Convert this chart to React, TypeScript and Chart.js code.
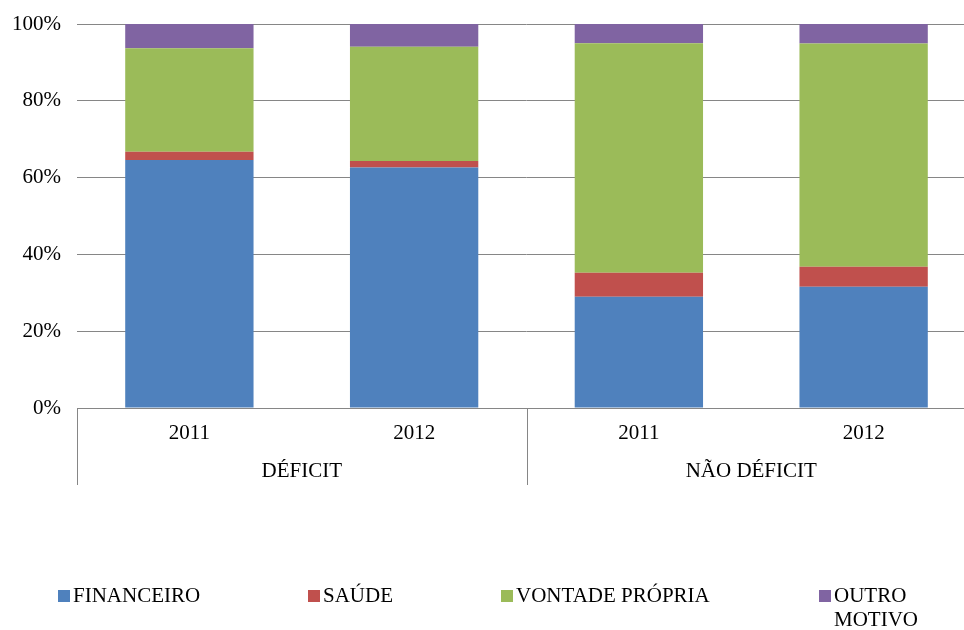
import { useEffect, useRef } from 'react';
import { Chart, registerables } from 'chart.js';

Chart.register(...registerables);

const categories = ['2011', '2012', '2011', '2012'];
const groups = ['DÉFICIT', 'NÃO DÉFICIT'];
const groupSizes = [2, 2];
const seriesNames = ['FINANCEIRO', 'SAÚDE', 'VONTADE PRÓPRIA', 'OUTRO MOTIVO'];
const financeiro = [64.6, 62.6, 29.0, 31.6];
const saude = [2.1, 1.7, 6.2, 5.2];
const vontadePropria = [27.0, 29.8, 59.8, 58.1];
const outroMotivo = [6.3, 5.9, 5.0, 5.1];
const yTicks = [0, 20, 40, 60, 80, 100];

const colors = ['#4F81BD', '#C0504D', '#9BBB59', '#8064A2'];
const FONT = '"Liberation Serif", "Times New Roman", serif';
const GRID = '#868686';

export default function App() {
  const ref = useRef<HTMLCanvasElement>(null);

  useEffect(() => {
    if (!ref.current) return;

    const groupPlugin = {
      id: 'groupAxis',
      afterDraw(chart: any) {
        const { ctx, chartArea, scales } = chart;
        const xs = scales.x;
        const bottom = chartArea.bottom;
        ctx.save();
        ctx.strokeStyle = GRID;
        ctx.lineWidth = 1;
        ctx.fillStyle = '#000';
        ctx.font = `21px ${FONT}`;
        ctx.textAlign = 'center';
        ctx.textBaseline = 'middle';
        let start = 0;
        const boundaries: number[] = [xs.left];
        groups.forEach((g, gi) => {
          const end = start + groupSizes[gi];
          const right =
            end >= categories.length
              ? xs.right
              : (xs.getPixelForValue(end - 1) + xs.getPixelForValue(end)) / 2;
          const left = boundaries[boundaries.length - 1];
          boundaries.push(right);
          ctx.fillText(g, (left + right) / 2, bottom + 63);
          start = end;
        });
        boundaries.forEach((bx) => {
          const px = Math.round(bx) + 0.5;
          ctx.beginPath();
          ctx.moveTo(px, bottom);
          ctx.lineTo(px, bottom + 77);
          ctx.stroke();
        });
        ctx.restore();
      },
    };

    const legendPlugin = {
      id: 'customLegend',
      afterDraw(chart: any) {
        const { ctx } = chart;
        const itemX = [58, 308, 501, 819];
        const y = 596;
        const maxRight = 950;
        ctx.save();
        ctx.font = `21px ${FONT}`;
        ctx.textBaseline = 'middle';
        ctx.textAlign = 'left';
        chart.data.datasets.forEach((ds: any, i: number) => {
          const x = itemX[i];
          ctx.fillStyle = ds.backgroundColor;
          ctx.fillRect(x, y - 6, 12, 12);
          ctx.fillStyle = '#000';
          const tx = x + 15;
          const words = String(ds.label).split(' ');
          const lines: string[] = [];
          let cur = '';
          words.forEach((w) => {
            const test = cur ? cur + ' ' + w : w;
            if (cur && tx + ctx.measureText(test).width > maxRight) {
              lines.push(cur);
              cur = w;
            } else {
              cur = test;
            }
          });
          if (cur) lines.push(cur);
          lines.forEach((ln, li) => ctx.fillText(ln, tx, y + li * 24));
        });
        ctx.restore();
      },
    };

    const seriesValues = [financeiro, saude, vontadePropria, outroMotivo];

    const chart = new Chart(ref.current, {
      type: 'bar',
      data: {
        labels: categories,
        datasets: seriesNames.map((name, i) => ({
          label: name,
          data: seriesValues[i],
          backgroundColor: colors[i],
          borderWidth: 0,
          categoryPercentage: 1,
          barPercentage: 0.571,
        })),
      },
      options: {
        responsive: false,
        animation: false,
        devicePixelRatio: 1,
        layout: { padding: { top: 24, left: 0, right: 0, bottom: 0 } },
        plugins: {
          legend: { display: false },
          tooltip: { enabled: false },
        },
        scales: {
          x: {
            stacked: true,
            grid: { display: false, drawTicks: false },
            border: { display: true, color: GRID, width: 1 },
            ticks: {
              color: '#000',
              font: { family: FONT, size: 21 },
              padding: 13,
              maxRotation: 0,
            },
            afterFit(scale: any) {
              scale.height = 222;
              scale.paddingLeft = 0;
              scale.paddingRight = 0;
            },
          },
          y: {
            stacked: true,
            min: 0,
            max: 100,
            afterBuildTicks(scale: any) {
              scale.ticks = yTicks.map((v) => ({ value: v }));
            },
            grid: { color: GRID, lineWidth: 1, drawTicks: false },
            border: { display: false },
            ticks: {
              color: '#000',
              font: { family: FONT, size: 21 },
              padding: 16,
              callback: (v: any) => `${v}%`,
            },
            afterFit(scale: any) {
              scale.width = 77;
              scale.paddingTop = 0;
              scale.paddingBottom = 0;
            },
          },
        },
      },
      plugins: [groupPlugin, legendPlugin],
    });

    return () => chart.destroy();
  }, []);

  return (
    <div
      style={{
        position: 'fixed',
        left: 0,
        top: 0,
        width: 964,
        height: 630,
        overflow: 'hidden',
        background: '#fff',
      }}
    >
      <canvas ref={ref} width={976} height={630} style={{ display: 'block', width: 976, height: 630 }} />
    </div>
  );
}
